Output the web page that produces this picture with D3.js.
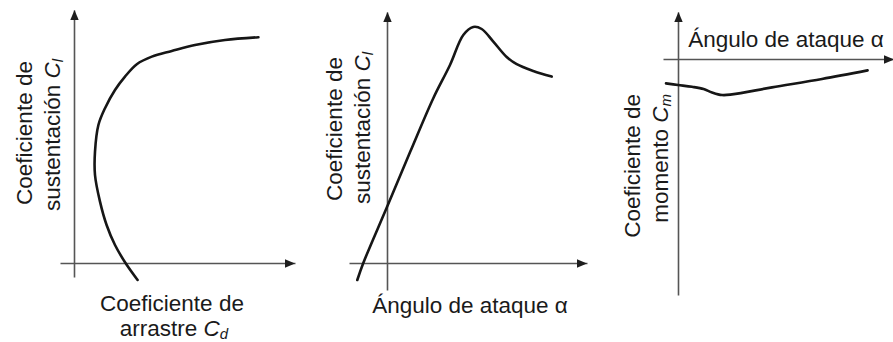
<!DOCTYPE html>
<html>
<head>
<meta charset="utf-8">
<script src="https://cdn.jsdelivr.net/npm/d3@7"></script>
<style>
  html, body { margin: 0; padding: 0; background: #fff; }
  svg { display: block; }
  text { font-family: "Liberation Sans", Arial, sans-serif; fill: #1a1a1a; }
</style>
</head>
<body>
<svg id="chart" width="893" height="342"></svg>
<script>
// Drag polar: drag coefficient Cd vs lift coefficient Cl
const polarCd = [0.318, 0.255, 0.205, 0.163, 0.130, 0.105, 0.105, 0.122, 0.155, 0.205, 0.255, 0.314, 0.389, 0.489, 0.605, 0.755, 0.922];
const polarCl = [-0.085, 0.004, 0.090, 0.190, 0.307, 0.440, 0.557, 0.690, 0.774, 0.865, 0.932, 0.994, 1.032, 1.060, 1.090, 1.115, 1.129];

// Lift curve: angle of attack vs Cl
const liftAlpha = [-2.97, -2.37, 0.0, 2.33, 4.63, 6.30, 7.63, 8.63, 9.47, 10.63, 11.97, 12.97, 14.63, 16.47];
const liftCl = [-0.085, 0.0, 0.28, 0.557, 0.824, 0.99, 1.14, 1.18, 1.17, 1.107, 1.03, 0.994, 0.96, 0.932];

// Moment curve: angle of attack vs Cm
const momentAlpha = [-1.2, 0.0, 1.4, 2.56, 3.4, 4.4, 5.4, 9.4, 14.4, 18.96];
const momentCm = [-0.122, -0.13, -0.139, -0.15, -0.167, -0.18, -0.177, -0.142, -0.10, -0.057];

const svg = d3.select("#chart");

const curveColor = "#161616";
const axisColor = "#555";
const arrowColor = "#1e1e1e";

// Draws the two axes of one panel with arrowheads at the positive ends
function drawAxes(x, y) {
  const g = svg.append("g");
  const ox = x(0), oy = y(0);

  g.append("g")
    .attr("transform", `translate(0,${oy})`)
    .call(d3.axisBottom(x).tickValues([]).tickSizeOuter(0));
  g.append("g")
    .attr("transform", `translate(${ox},0)`)
    .call(d3.axisLeft(y).tickValues([]).tickSizeOuter(0));
  g.selectAll(".domain").attr("stroke", axisColor).attr("stroke-width", 1.6);

  const xr = x.range(), yr = y.range();
  const tipX = xr[1], tipY = yr[1];
  g.append("path")
    .attr("d", `M${tipX},${oy + 0.5} L${tipX - 10},${oy + 0.5 - 4.2} L${tipX - 10},${oy + 0.5 + 4.2} Z`)
    .attr("fill", arrowColor);
  g.append("path")
    .attr("d", `M${ox + 0.5},${tipY} L${ox + 0.5 - 4.2},${tipY + 10} L${ox + 0.5 + 4.2},${tipY + 10} Z`)
    .attr("fill", arrowColor);
}

function drawCurve(xs, ys, x, y) {
  const pts = xs.map((v, i) => [v, ys[i]]);
  svg.append("path")
    .datum(pts)
    .attr("fill", "none")
    .attr("stroke", curveColor)
    .attr("stroke-width", 2.6)
    .attr("stroke-linecap", "round")
    .attr("stroke-linejoin", "round")
    .attr("d", d3.line()
      .x(d => x(d[0]))
      .y(d => y(d[1]))
      .curve(d3.curveCatmullRom.alpha(0.5)));
}

// Text line with an italic coefficient symbol and subscript
function symbolLine(parent, plain, sub) {
  parent.append("tspan").text(plain);
  parent.append("tspan").attr("font-style", "italic").text("C");
  parent.append("tspan").attr("font-style", "italic").attr("font-size", 15).attr("dy", 3).text(sub);
}

const fs = 22.5;

// ---- Panel 1: drag polar ----
const x1 = d3.scaleLinear().domain([-0.07, 1.105]).range([60, 295]);
const y1 = d3.scaleLinear().domain([-0.07, 1.265]).range([277, 10]);
drawAxes(x1, y1);
drawCurve(polarCd, polarCl, x1, y1);

svg.append("text").attr("x", 172).attr("y", 311).attr("text-anchor", "middle")
  .attr("font-size", fs).text("Coeficiente de");
symbolLine(svg.append("text").attr("x", 174).attr("y", 336).attr("text-anchor", "middle")
  .attr("font-size", fs), "arrastre ", "d");

svg.append("text").attr("transform", "translate(32,133) rotate(-90)")
  .attr("text-anchor", "middle").attr("font-size", fs).text("Coeficiente de");
symbolLine(svg.append("text").attr("transform", "translate(60,135) rotate(-90)")
  .attr("text-anchor", "middle").attr("font-size", fs), "sustentación ", "l");

// ---- Panel 2: lift curve ----
const x2 = d3.scaleLinear().domain([-3.8, 20]).range([349, 587]);
const y2 = d3.scaleLinear().domain([-0.135, 1.255]).range([290, 12]);
drawAxes(x2, y2);
drawCurve(liftAlpha, liftCl, x2, y2);

svg.append("text").attr("x", 470).attr("y", 313).attr("text-anchor", "middle")
  .attr("font-size", fs).text("Ángulo de ataque α");

svg.append("text").attr("transform", "translate(342,129) rotate(-90)")
  .attr("text-anchor", "middle").attr("font-size", fs).text("Coeficiente de");
symbolLine(svg.append("text").attr("transform", "translate(370,128) rotate(-90)")
  .attr("text-anchor", "middle").attr("font-size", fs), "sustentación ", "l");

// ---- Panel 3: moment curve ----
const x3 = d3.scaleLinear().domain([-1.5, 21.6]).range([663, 894]);
const y3 = d3.scaleLinear().domain([-1.18, 0.235]).range([295, 12]);
drawAxes(x3, y3);
drawCurve(momentAlpha, momentCm, x3, y3);

svg.append("text").attr("x", 786).attr("y", 47).attr("text-anchor", "middle")
  .attr("font-size", fs).text("Ángulo de ataque α");

svg.append("text").attr("transform", "translate(640,94) rotate(-90)")
  .attr("text-anchor", "end").attr("font-size", fs).text("Coeficiente de");
symbolLine(svg.append("text").attr("transform", "translate(668,94) rotate(-90)")
  .attr("text-anchor", "end").attr("font-size", fs), "momento ", "m");
</script>
</body>
</html>
